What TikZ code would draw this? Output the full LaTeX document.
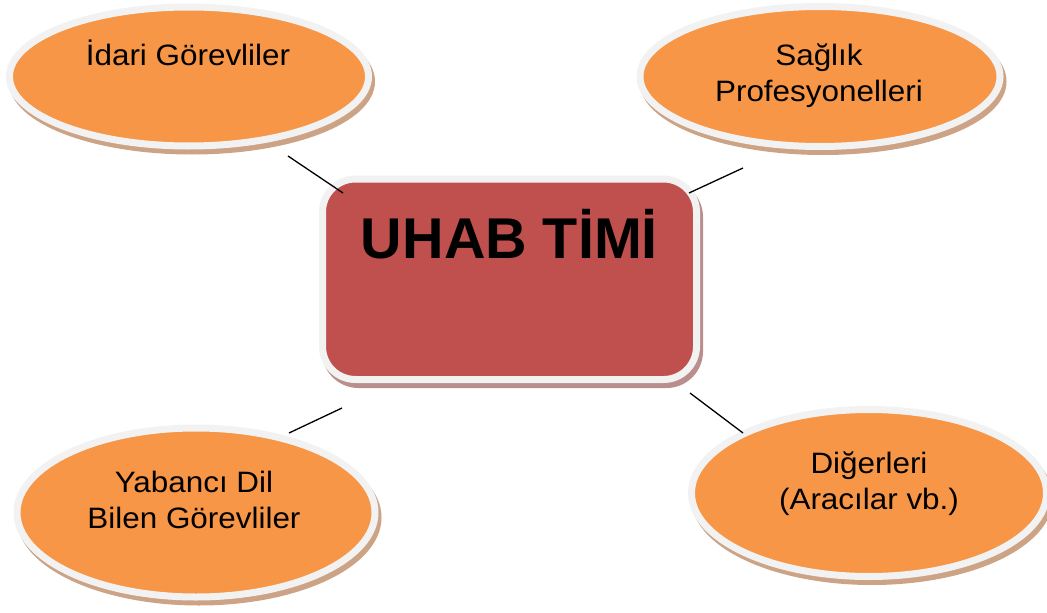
\documentclass[tikz,border=0pt]{standalone}
\usepackage{fontspec}
\setmainfont{Liberation Sans}
\newfontfamily\bubblefont[FakeStretch=1.065]{Liberation Sans}
\usetikzlibrary{shapes.geometric}

\definecolor{bubbleorange}{HTML}{F79646}
\definecolor{ringgray}{HTML}{F2F2F2}
\definecolor{bubbleshadow}{HTML}{CDA386}
\definecolor{boxred}{HTML}{C0504D}
\definecolor{boxshadow}{HTML}{B98E8C}

\begin{document}
\begin{tikzpicture}[x=1pt,y=-1pt,
  bubble/.style={ellipse, inner sep=0pt, fill=bubbleorange, draw=ringgray, line width=7pt,
    preaction={fill=bubbleshadow, draw=bubbleshadow, line width=7pt,
      transform canvas={shift={(3pt,-5pt)}}}},
  teambox/.style={rectangle, rounded corners=33pt, inner sep=0pt, fill=boxred,
    draw=ringgray, line width=7pt,
    preaction={fill=boxshadow, draw=boxshadow, line width=7pt,
      transform canvas={shift={(3pt,-5pt)}}}},
  lbl/.style={inner sep=0pt, anchor=base, text=black,
    font=\bubblefont\fontsize{29.5}{36}\selectfont},
  title/.style={inner sep=0pt, anchor=base, text=black,
    font=\bfseries\fontsize{57.5}{60}\selectfont},
  link/.style={draw=black, line width=1.3pt}
]
\useasboundingbox (0,0) rectangle (1047,613);

% central team box
\node[teambox, minimum width=374pt, minimum height=200.5pt] (team) at (509.5,279.25) {};
\node[title] (team-text) at (509.5,258) {UHAB TİMİ};

% surrounding groups
\node[bubble, minimum width=359pt, minimum height=139pt] (admin) at (189,76.5) {};
\node[lbl] (admin-text) at (188,65) {İdari Görevliler};

\node[bubble, minimum width=360pt, minimum height=140pt] (health) at (820,76.5) {};
\node[lbl] (health-text1) at (819,65) {Sağlık};
\node[lbl] (health-text2) at (819,101) {Profesyonelleri};

\node[bubble, minimum width=358pt, minimum height=169pt] (lang) at (196,512.5) {};
\node[lbl] (lang-text1) at (194,492) {Yabancı Dil};
\node[lbl] (lang-text2) at (194,528) {Bilen Görevliler};

\node[bubble, minimum width=355pt, minimum height=167pt] (other) at (869,493) {};
\node[lbl] (other-text1) at (869,473) {Diğerleri};
\node[lbl] (other-text2) at (869,509) {(Aracılar vb.)};

% connector end points
\coordinate (admin-a) at (288,156);
\coordinate (admin-b) at (343,193);
\coordinate (health-a) at (743,168);
\coordinate (health-b) at (689,193);
\coordinate (lang-a) at (289,433);
\coordinate (lang-b) at (342,408);
\coordinate (other-a) at (743,433);
\coordinate (other-b) at (690,393);

\draw[link] (admin-a) -- (admin-b);
\draw[link] (health-a) -- (health-b);
\draw[link] (lang-a) -- (lang-b);
\draw[link] (other-a) -- (other-b);
\end{tikzpicture}
\end{document}
